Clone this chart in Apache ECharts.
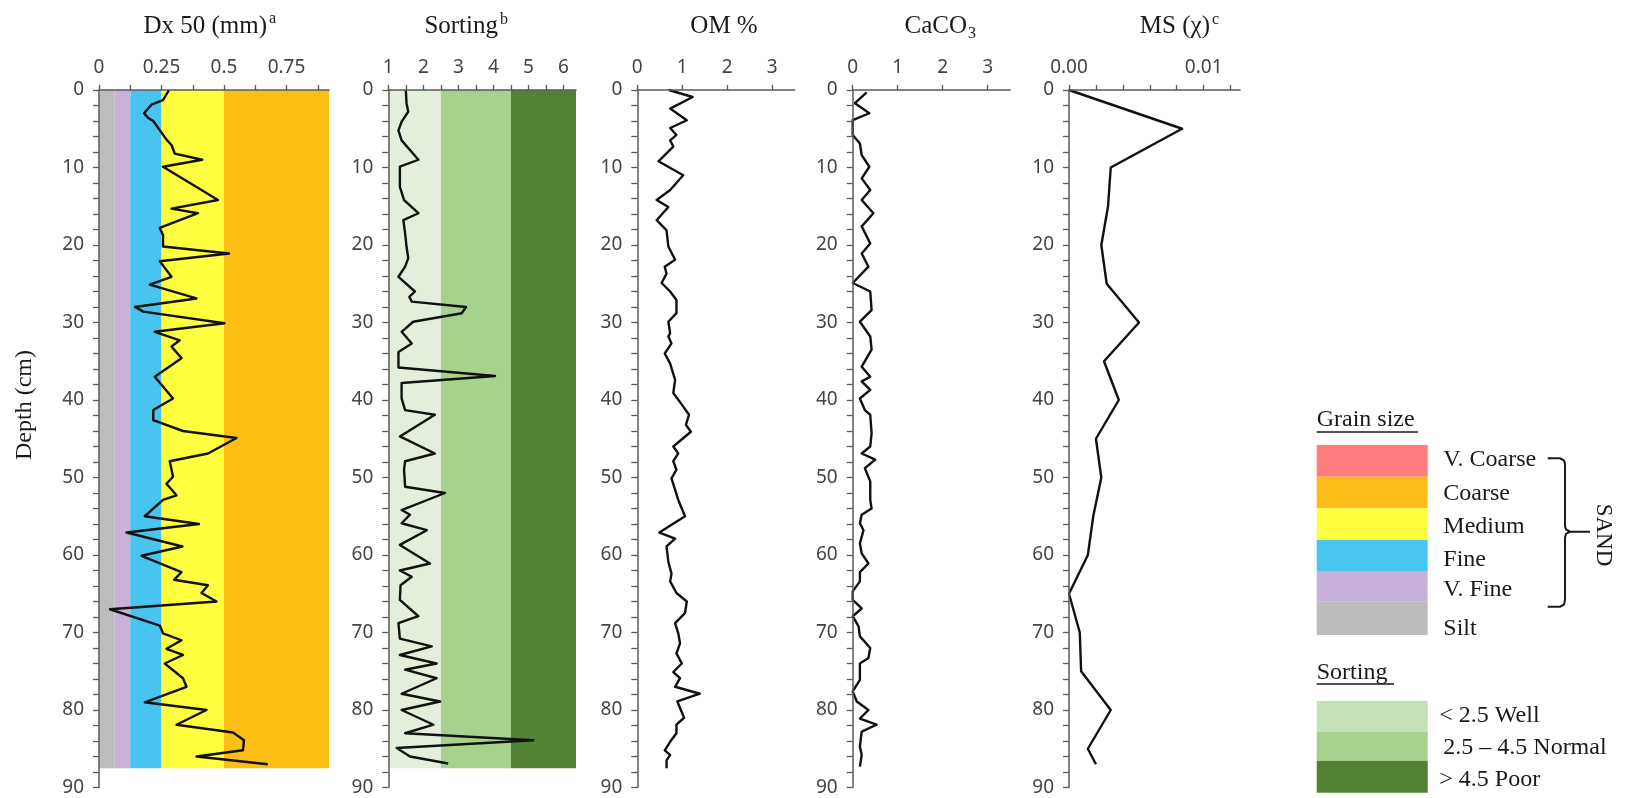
<!DOCTYPE html>
<html><head><meta charset="utf-8">
<script src="https://cdn.jsdelivr.net/npm/echarts@6/dist/echarts.min.js"></script>
<style>html,body{margin:0;padding:0;background:#fff}#c{width:1625px;height:798px}</style>
</head><body><div id="c"></div>
<script>
// ---------------- DATA ----------------
const depthLabels = [0,10,20,30,40,50,60,70,80,90];

const dxDepth = [0,1.3,1.9,3.0,3.6,4.0,4.9,6.4,7.1,8.2,9.0,9.9,14.2,15.3,15.9,17.8,18.7,20.2,21.1,22.1,24.1,25.1,26.9,28.0,28.6,30.1,31.2,32.3,33.1,34.6,37.0,39.8,41.3,42.6,44.0,44.9,46.9,47.9,49.9,50.8,52.3,52.9,55.0,56.0,57.1,58.9,60.1,62.2,63.2,63.9,64.9,66.0,67.0,69.1,70.1,71.0,72.1,72.9,74.0,75.9,77.0,79.0,80.0,81.9,82.9,83.9,85.2,86.0,87.0];
const dxValue = [0.28,0.256,0.21,0.18,0.197,0.217,0.237,0.27,0.29,0.303,0.413,0.256,0.476,0.29,0.396,0.243,0.256,0.256,0.52,0.243,0.29,0.203,0.39,0.144,0.177,0.502,0.223,0.323,0.29,0.33,0.223,0.296,0.217,0.217,0.336,0.55,0.436,0.283,0.296,0.27,0.31,0.256,0.183,0.40,0.11,0.334,0.17,0.33,0.30,0.436,0.41,0.47,0.044,0.243,0.256,0.33,0.27,0.336,0.263,0.336,0.35,0.183,0.43,0.31,0.536,0.58,0.576,0.39,0.675];

const sortDepth = [0,1.7,2.8,4.1,5.2,6.5,9.0,9.9,12.5,14.2,15.9,16.8,18.5,20.2,21.7,22.8,24.1,26.0,26.7,27.3,28.0,28.8,29.9,31.2,32.7,33.8,35.8,36.9,37.8,39.8,41.3,41.9,44.7,46.9,47.9,49.0,51.2,52.0,54.2,54.8,55.9,56.8,58.7,61.1,62.0,62.8,63.9,65.8,67.9,68.8,70.8,71.8,72.9,74.0,74.8,75.9,77.9,78.9,80.0,81.9,83.0,83.9,84.9,86.0,86.9];
const sortValue = [1.50,1.52,1.57,1.38,1.29,1.38,1.86,1.33,1.33,1.45,1.86,1.43,1.48,1.52,1.57,1.48,1.29,1.76,1.6,1.67,3.22,3.1,1.71,1.38,1.67,1.29,1.29,4.05,1.38,1.38,1.48,2.33,1.33,2.33,1.48,1.45,1.48,2.62,1.38,1.62,1.38,2.1,1.33,2.19,1.33,1.67,1.35,1.33,1.86,1.29,1.33,2.24,1.33,2.38,1.48,2.38,1.38,2.48,1.38,2.29,1.48,5.14,1.24,1.62,2.71];

const omDepth = [0,0.9,2.4,3.9,4.9,5.8,6.5,7.3,9.2,11.0,12.9,14.2,15.1,16.8,18.1,20.2,21.9,22.8,23.7,24.9,26.0,27.1,28.8,29.9,31.4,31.8,32.7,34.0,35.3,37.4,39.1,40.6,41.9,43.2,44.1,46.0,46.9,47.9,49.0,50.1,52.9,55.0,57.1,57.9,58.9,60.9,62.4,63.4,64.9,66.0,67.5,68.8,70.1,71.4,72.7,74.0,75.1,75.9,77.0,77.9,78.9,81.0,81.9,83.0,84.1,85.2,85.8,86.5,87.5];
const omValue = [0.7,1.23,0.73,1.10,0.73,0.87,0.73,0.80,0.47,1.02,0.73,0.43,0.69,0.43,0.65,0.69,0.84,0.61,0.65,0.54,0.73,0.87,0.87,0.69,0.73,0.69,0.76,0.61,0.73,0.84,0.80,0.99,1.15,1.08,1.19,0.80,0.91,0.80,0.87,0.76,0.91,1.06,0.49,0.84,0.65,0.69,0.76,0.73,0.87,1.10,1.06,0.84,0.91,0.95,0.87,0.99,0.80,0.95,0.84,1.39,0.89,1.04,0.87,0.87,0.73,0.61,0.73,0.65,0.65];

const caDepth = [0.3,1.7,3.0,3.9,5.8,6.9,8.4,9.9,11.4,12.9,14.2,15.9,17.6,19.8,21.1,22.8,24.9,26.0,28.4,29.9,31.8,33.5,35.7,37.0,37.6,38.7,39.8,41.3,41.9,44.3,46.0,46.9,47.7,48.8,50.5,52.9,54.0,54.8,55.9,56.8,58.5,59.8,61.1,62.2,63.4,64.7,65.8,66.9,67.9,69.2,70.5,72.0,73.3,74.0,76.1,77.6,78.9,80.0,81.1,81.9,82.8,84.7,85.8,87.3];
const caValue = [0.31,0.05,0.37,0,0,0.16,0.2,0.37,0.2,0.39,0.2,0.46,0.2,0.39,0.2,0.35,0,0.39,0.42,0.16,0.39,0.42,0.2,0.39,0.2,0.39,0.16,0.27,0.39,0.42,0.39,0.2,0.5,0.27,0.39,0.39,0.42,0.2,0.16,0.24,0.16,0.2,0.35,0.16,0.16,0,0,0.2,0,0.13,0.16,0.39,0.35,0.16,0.16,0,0.09,0.35,0.16,0.53,0.2,0.16,0.2,0.16];

const msDepth = [0,5,10,15,20,25,30,35,40,45,50,55,60,65,70,75,80,85,87];
const msValue = [0,0.0084,0.0031,0.0029,0.0024,0.0028,0.0052,0.0026,0.0037,0.002,0.0024,0.0018,0.0014,0,0.0008,0.0009,0.0031,0.0014,0.002];

// x-axis ticks / labels
const dxTicks = [0,0.125,0.25,0.375,0.5,0.625,0.75,0.875];
const dxLabels = [0,0.25,0.5,0.75];
const sortTicks = [1,1.5,2,2.5,3,3.5,4,4.5,5,5.5,6];
const sortLabels = [1,2,3,4,5,6];
const pctTicks = [0,1,2,3];
const pctLabels = [0,1,2,3];
const msTicks = [0,0.002,0.004,0.006,0.008,0.01,0.012];
const msLabels = [0,0.01];

// background classes
const grainEdges = [0,0.0625,0.125,0.25,0.5,0.92];
const grainColors = ['#BDBDBD','#C9B1DA','#48C4EF','#FFFF40','#FDBE15'];
const sortEdges = [1,2.5,4.5,6.36];
const sortColors = ['#E3EFDA','#A9D18E','#548235'];
const bandBottom = 87.5;

// legend
const grainLegendNames = ['V. Coarse','Coarse','Medium','Fine','V. Fine','Silt'];
const grainLegendColors = ['#FF7D7D','#FBBD16','#FFFF42','#48C6EF','#C8B1D9','#BCBCBC'];
const sortLegendNames = ['< 2.5 Well','2.5 \u2013 4.5 Normal','> 4.5 Poor'];
const sortLegendColors = ['#C5E0B4','#A9D18E','#548235'];

// ---------------- CHART ----------------
const AX = '#5a5a5a', LBL = '#444', SERIF = '"Liberation Serif", "Times New Roman", serif', SANS = '"Noto Sans", "Open Sans", sans-serif';
const grids = [
  {left:99, top:90, width:230, height:697.5},
  {left:388.3, top:90, width:187.7, height:697.5},
  {left:637.3, top:90, width:157.5, height:697.5},
  {left:852.7, top:90, width:157.5, height:697.5},
  {left:1069, top:90, width:171, height:697.5}
];
const xDefs = [
  {min:0, max:0.92, ticks:dxTicks, labels:dxLabels},
  {min:1, max:6.36, ticks:sortTicks, labels:sortLabels},
  {min:0, max:3.5, ticks:pctTicks, labels:pctLabels},
  {min:0, max:3.5, ticks:pctTicks, labels:pctLabels},
  {min:0, max:0.0127, ticks:msTicks, labels:msLabels, fmt: v => Number(v).toFixed(2)}
];
const xAxis = xDefs.map((d,i) => ({
  type:'value', gridIndex:i, position:'top', min:d.min, max:d.max, z:10,
  axisLine:{show:true, onZero:false, lineStyle:{color:AX, width:1.5}},
  axisTick:{show:true, length:5, customValues:d.ticks, lineStyle:{color:AX, width:1.3}},
  axisLabel:{show:true, customValues:d.labels, margin:13, fontSize:19, fontFamily:SANS, color:LBL,
             formatter: d.fmt ? d.fmt : (v => String(+Number(v).toFixed(4)))},
  splitLine:{show:false}
}));
const yAxis = grids.map((g,i) => ({
  type:'value', gridIndex:i, inverse:true, min:0, max:90, interval:10, z:10,
  axisLine:{show:true, onZero:false, lineStyle:{color:AX, width:1.5}},
  axisTick:{show:true, length:6, lineStyle:{color:AX, width:1.3}},
  minorTick:{show:true, splitNumber:5, length:6, lineStyle:{color:AX, width:1.3}},
  axisLabel:{show:true, margin:15, fontSize:19, fontFamily:SANS, color:LBL},
  splitLine:{show:false}, minorSplitLine:{show:false}
}));

function zip(v,d){ return v.map((x,i)=>[x,d[i]]); }
function bands(edges, colors){
  return colors.map((c,i)=>[{xAxis:edges[i], yAxis:0, itemStyle:{color:c, opacity:1}}, {xAxis:edges[i+1], yAxis:bandBottom}]);
}
function lineSeries(i, v, d, area){
  const s = {type:'line', xAxisIndex:i, yAxisIndex:i, data:zip(v,d), symbol:'none', showSymbol:false,
    lineStyle:{color:'#111', width:2.4, join:'round'}, z:3, silent:true, animation:false, clip:false};
  if(area) s.markArea = {silent:true, z:1, itemStyle:{borderWidth:0}, data:area};
  return s;
}
const series = [
  lineSeries(0, dxValue, dxDepth, bands(grainEdges, grainColors)),
  lineSeries(1, sortValue, sortDepth, bands(sortEdges, sortColors)),
  lineSeries(2, omValue, omDepth),
  lineSeries(3, caValue, caDepth),
  lineSeries(4, msValue, msDepth)
];

// graphics
const G = [];
function txt(x,y,text,size,align,vAlign,extra){
  const e = {type:'text', x:x, y:y, z:20, style:{text:text, font: size+'px '+SERIF, fill:'#1a1a1a', align:align||'left', verticalAlign:vAlign||'middle'}};
  return Object.assign(e, extra||{});
}
// titles
G.push(txt(267,26,'Dx 50 (mm)',25,'right'));
G.push(txt(269,19,'a',16,'left'));
G.push(txt(498,26,'Sorting',25,'right'));
G.push(txt(500,20,'b',16,'left'));
G.push(txt(724,26,'OM %',25,'center'));
G.push(txt(967,26,'CaCO',25,'right'));
G.push(txt(968,34,'3',16,'left'));
G.push(txt(1210,26,'MS (\u03C7)',25,'right'));
G.push(txt(1212,20,'c',16,'left'));
// depth axis name
G.push(txt(25,405,'Depth (cm)',24,'center','middle',{rotation:Math.PI/2}));
// legend: grain size
G.push(txt(1316.7,420,'Grain size',24,'left'));
G.push({type:'line', z:20, shape:{x1:1316.7,y1:432,x2:1418,y2:432}, style:{stroke:'#1a1a1a', lineWidth:1.5}});
const gY = [445,476.7,508.3,540,571.7,601.7,635];
const gLabY = [460,493.3,526.7,559.3,590,628.3];
grainLegendNames.forEach((n,i)=>{
  G.push({type:'rect', z:20, shape:{x:1316.7, y:gY[i], width:111, height:gY[i+1]-gY[i]}, style:{fill:grainLegendColors[i]}});
  G.push(txt(1443.3, gLabY[i], n, 24, 'left'));
});
// brace + SAND
const braceStyle = {stroke:'#1a1a1a', lineWidth:2, fill:null};
G.push({type:'polyline', z:20, shape:{points:[[1547.7,458.3],[1560,458.3],[1564,460.5],[1565,464],[1565,526],[1566,529.5],[1570,531.7],[1590,531.7]]}, style:braceStyle});
G.push({type:'polyline', z:20, shape:{points:[[1570,531.7],[1566,534],[1565,537.5],[1565,600],[1564,604.5],[1560,606.7],[1547.7,606.7]]}, style:braceStyle});
G.push(txt(1603,535,'SAND',23,'center','middle',{rotation:-Math.PI/2}));
// legend: sorting
G.push(txt(1316.7,673,'Sorting',24,'left'));
G.push({type:'line', z:20, shape:{x1:1316.7,y1:684,x2:1394,y2:684}, style:{stroke:'#1a1a1a', lineWidth:1.5}});
const sY = [701,731.7,760.7,792.7];
const sLabX = [1439.3,1443.3,1439.3];
const sLabY = [715.7,747.3,780];
sortLegendNames.forEach((n,i)=>{
  G.push({type:'rect', z:20, shape:{x:1316.7, y:sY[i], width:111, height:sY[i+1]-sY[i]}, style:{fill:sortLegendColors[i]}});
  G.push(txt(sLabX[i], sLabY[i], n, 24, 'left'));
});

const chart = echarts.init(document.getElementById('c'), null, {renderer:'canvas'});
chart.setOption({
  animation:false,
  backgroundColor:'#ffffff',
  grid: grids,
  xAxis: xAxis,
  yAxis: yAxis,
  series: series,
  graphic: G
});
</script>
</body></html>
